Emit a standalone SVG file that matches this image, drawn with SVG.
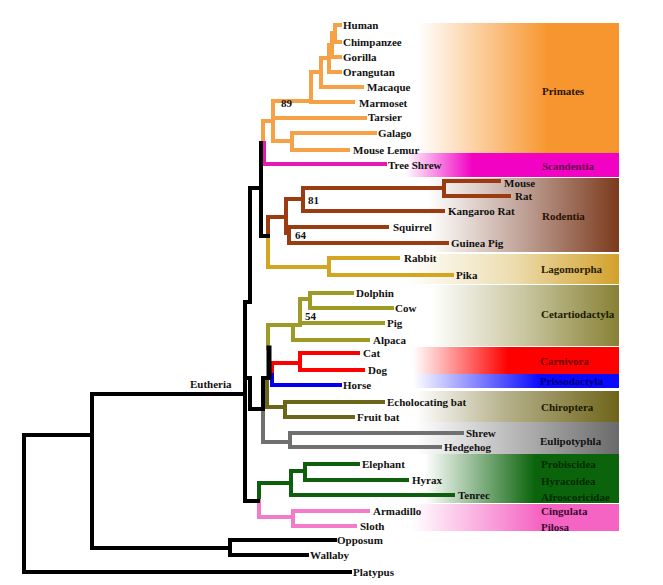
<svg xmlns="http://www.w3.org/2000/svg" width="663" height="585" viewBox="0 0 663 585">
<style>
.t{font-family:"Liberation Serif","Times New Roman",serif;font-size:11px;font-weight:bold;fill:#111}
.b{fill:none;stroke-width:4;stroke-linecap:square;stroke-linejoin:miter}
.k{stroke:#000}.or{stroke:#F7A146}.mg{stroke:#E619B4}.bn{stroke:#9A3B12}.gd{stroke:#D4A521}
.ol{stroke:#9E9A26}.dol{stroke:#6C661B}.rd{stroke:#FF0000}.bl{stroke:#0000EE}.gy{stroke:#707070}
.gn{stroke:#0D5E0D}.pk{stroke:#F47ACB}
</style>
<defs>
<linearGradient id="gPri" gradientUnits="userSpaceOnUse" x1="418" y1="0" x2="548" y2="0"><stop offset="0" stop-color="#fff"/><stop offset="1" stop-color="#F7962F"/></linearGradient>
<linearGradient id="gSca" gradientUnits="userSpaceOnUse" x1="405" y1="0" x2="472" y2="0"><stop offset="0" stop-color="#fff"/><stop offset="1" stop-color="#F203C4"/></linearGradient>
<linearGradient id="gRod" gradientUnits="userSpaceOnUse" x1="428" y1="0" x2="619" y2="0"><stop offset="0" stop-color="#fff"/><stop offset="0.5" stop-color="#BFA196"/><stop offset="1" stop-color="#7B3A1C"/></linearGradient>
<linearGradient id="gLag" gradientUnits="userSpaceOnUse" x1="405" y1="0" x2="619" y2="0"><stop offset="0" stop-color="#fff"/><stop offset="0.5" stop-color="#EDDDB0"/><stop offset="1" stop-color="#D2A12C"/></linearGradient>
<linearGradient id="gCet" gradientUnits="userSpaceOnUse" x1="430" y1="0" x2="619" y2="0"><stop offset="0" stop-color="#fff"/><stop offset="0.5" stop-color="#C9C6A0"/><stop offset="1" stop-color="#878135"/></linearGradient>
<linearGradient id="gCar" gradientUnits="userSpaceOnUse" x1="413" y1="0" x2="508" y2="0"><stop offset="0" stop-color="#fff"/><stop offset="1" stop-color="#FF0000"/></linearGradient>
<linearGradient id="gPer" gradientUnits="userSpaceOnUse" x1="413" y1="0" x2="540" y2="0"><stop offset="0" stop-color="#fff"/><stop offset="1" stop-color="#0A0AFF"/></linearGradient>
<linearGradient id="gChi" gradientUnits="userSpaceOnUse" x1="415" y1="0" x2="619" y2="0"><stop offset="0" stop-color="#fff"/><stop offset="0.45" stop-color="#B5B08A"/><stop offset="1" stop-color="#6E6418"/></linearGradient>
<linearGradient id="gEul" gradientUnits="userSpaceOnUse" x1="415" y1="0" x2="619" y2="0"><stop offset="0" stop-color="#fff"/><stop offset="0.45" stop-color="#BDBDBD"/><stop offset="1" stop-color="#6A6A6A"/></linearGradient>
<linearGradient id="gAfr" gradientUnits="userSpaceOnUse" x1="425" y1="0" x2="535" y2="0"><stop offset="0" stop-color="#fff"/><stop offset="1" stop-color="#0B640B"/></linearGradient>
<linearGradient id="gXen" gradientUnits="userSpaceOnUse" x1="412" y1="0" x2="540" y2="0"><stop offset="0" stop-color="#fff"/><stop offset="1" stop-color="#F564C3"/></linearGradient>
</defs>
<rect width="663" height="585" fill="#fff"/>

<g id="band-primates"><rect x="400" y="23" width="219" height="130" fill="url(#gPri)"/><text class="t" x="542" y="95" style="fill:#2a1500">Primates</text></g>
<g id="band-scandentia"><rect x="400" y="153" width="219" height="24" fill="url(#gSca)"/><text class="t" x="542" y="170" style="fill:#6a0050">Scandentia</text></g>
<g id="band-rodentia"><rect x="400" y="178" width="219" height="74" fill="url(#gRod)"/><text class="t" x="542" y="220" style="fill:#2a1000">Rodentia</text></g>
<g id="band-lagomorpha"><rect x="400" y="254" width="219" height="30" fill="url(#gLag)"/><text class="t" x="541" y="273" style="fill:#2a2000">Lagomorpha</text></g>
<g id="band-cetartiodactyla"><rect x="400" y="285" width="219" height="61" fill="url(#gCet)"/><text class="t" x="541" y="318" style="fill:#1a1a00">Cetartiodactyla</text></g>
<g id="band-carnivora"><rect x="400" y="347" width="219" height="27" fill="url(#gCar)"/><text class="t" x="540" y="365" style="fill:#6e0000">Carnivora</text></g>
<g id="band-perissodactyla"><rect x="400" y="374" width="219" height="14" fill="url(#gPer)"/><text class="t" x="540" y="385" style="fill:#000070">Prissodactyla</text></g>
<g id="band-chiroptera"><rect x="400" y="391" width="219" height="31" fill="url(#gChi)"/><text class="t" x="541" y="411" style="fill:#1a1800">Chiroptera</text></g>
<g id="band-eulipotyphla"><rect x="400" y="422" width="219" height="32" fill="url(#gEul)"/><text class="t" x="540" y="445" style="fill:#111">Eulipotyphla</text></g>
<g id="band-afrotheria"><rect x="400" y="454" width="219" height="49" fill="url(#gAfr)"/><text class="t" x="541" y="468" style="fill:#002a00">Probiscidea</text><text class="t" x="541" y="485" style="fill:#002a00">Hyracoidea</text><text class="t" x="541" y="501" style="fill:#002a00">Afroscoricidae</text></g>
<g id="band-xenarthra"><rect x="400" y="504" width="219" height="27" fill="url(#gXen)"/><text class="t" x="541" y="515" style="fill:#3a0a30">Cingulata</text><text class="t" x="541" y="531" style="fill:#3a0a30">Pilosa</text></g>

<g id="connectors">
<path class="b or" d="M340,25 H335 V42 H340 M335,33 H332 V57 H340 M332,45 H329 V72 H340 M329,58 H321 V87 H362 M321,72 H311 V102 H353 M311,101 H273 V141 H292 M273,118 H365 M375,133 H292 V150 H348 M273,121 H263 V143"/>
<path class="b mg" d="M264,143 V164 H385"/>
<path class="b bn" d="M499,181 H444 V196 H509 M444,188 H303 V211 H443 M387,227 H289 V243 H447 M303,199 H286 V233 H289 M286,217 H268 V236"/>
<path class="b gd" d="M268,236 V267 H329 M398,258 H329 V275 H452"/>
<path class="b ol" d="M268,348 V325 H300 M293,325 V340 H368 M383,323 H300 V299 H310 M352,293 H310 V308 H392"/>
<path class="b rd" d="M272,375 V363 H300 M358,353 H300 V370 H363"/>
<path class="b bl" d="M272,375 V385 H340"/>
<path class="b dol" d="M267,380 V407 H285 M383,402 H285 V417 H353"/>
<path class="b gy" d="M263,409 V442 H290 M462,433 H290 V447 H440"/>
<path class="b gn" d="M259,501 V483 H291 M291,471 V495 H453 M291,471 H305 M358,464 H305 V480 H407"/>
<path class="b pk" d="M259,501 V517 H293 M368,511 H293 V526 H355"/>
<path class="b k" d="M24,572 V435 H92 M350,572 H24 M92,394 V548 H230 M335,540 H230 V555 H307 M92,394 H245 M261,188 H250 V302 H245 V501 H258 M245,378 H250 V409 H263 M261,143 V236 H268 M269,348 V378 H263 V409"/>
<path class="b k" style="stroke-width:5" d="M269,348 V377"/>
</g>

<g id="leaf-labels">
<text class="t" x="343" y="29">Human</text>
<text class="t" x="343" y="46">Chimpanzee</text>
<text class="t" x="343" y="61">Gorilla</text>
<text class="t" x="343" y="76">Orangutan</text>
<text class="t" x="367" y="91">Macaque</text>
<text class="t" x="359" y="107">Marmoset</text>
<text class="t" x="368" y="121">Tarsier</text>
<text class="t" x="378" y="137">Galago</text>
<text class="t" x="353" y="154">Mouse Lemur</text>
<text class="t" x="388" y="169">Tree Shrew</text>
<text class="t" x="504" y="187">Mouse</text>
<text class="t" x="515" y="200">Rat</text>
<text class="t" x="448" y="215">Kangaroo Rat</text>
<text class="t" x="393" y="231">Squirrel</text>
<text class="t" x="451" y="247">Guinea Pig</text>
<text class="t" x="404" y="262">Rabbit</text>
<text class="t" x="456" y="279">Pika</text>
<text class="t" x="356" y="297">Dolphin</text>
<text class="t" x="395" y="312">Cow</text>
<text class="t" x="387" y="327">Pig</text>
<text class="t" x="373" y="344">Alpaca</text>
<text class="t" x="363" y="357">Cat</text>
<text class="t" x="368" y="374">Dog</text>
<text class="t" x="343" y="389">Horse</text>
<text class="t" x="387" y="406">Echolocating bat</text>
<text class="t" x="357" y="421">Fruit bat</text>
<text class="t" x="466" y="437">Shrew</text>
<text class="t" x="444" y="451">Hedgehog</text>
<text class="t" x="362" y="468">Elephant</text>
<text class="t" x="412" y="484">Hyrax</text>
<text class="t" x="458" y="499">Tenrec</text>
<text class="t" x="373" y="515">Armadillo</text>
<text class="t" x="360" y="530">Sloth</text>
<text class="t" x="337" y="544">Opposum</text>
<text class="t" x="310" y="559">Wallaby</text>
<text class="t" x="353" y="576">Platypus</text>
</g>
<g id="support-labels">
<text class="t" x="281" y="107">89</text>
<text class="t" x="308" y="204">81</text>
<text class="t" x="295" y="239">64</text>
<text class="t" x="305" y="320">54</text>
<text class="t" x="190" y="388">Eutheria</text>
</g>
</svg>
